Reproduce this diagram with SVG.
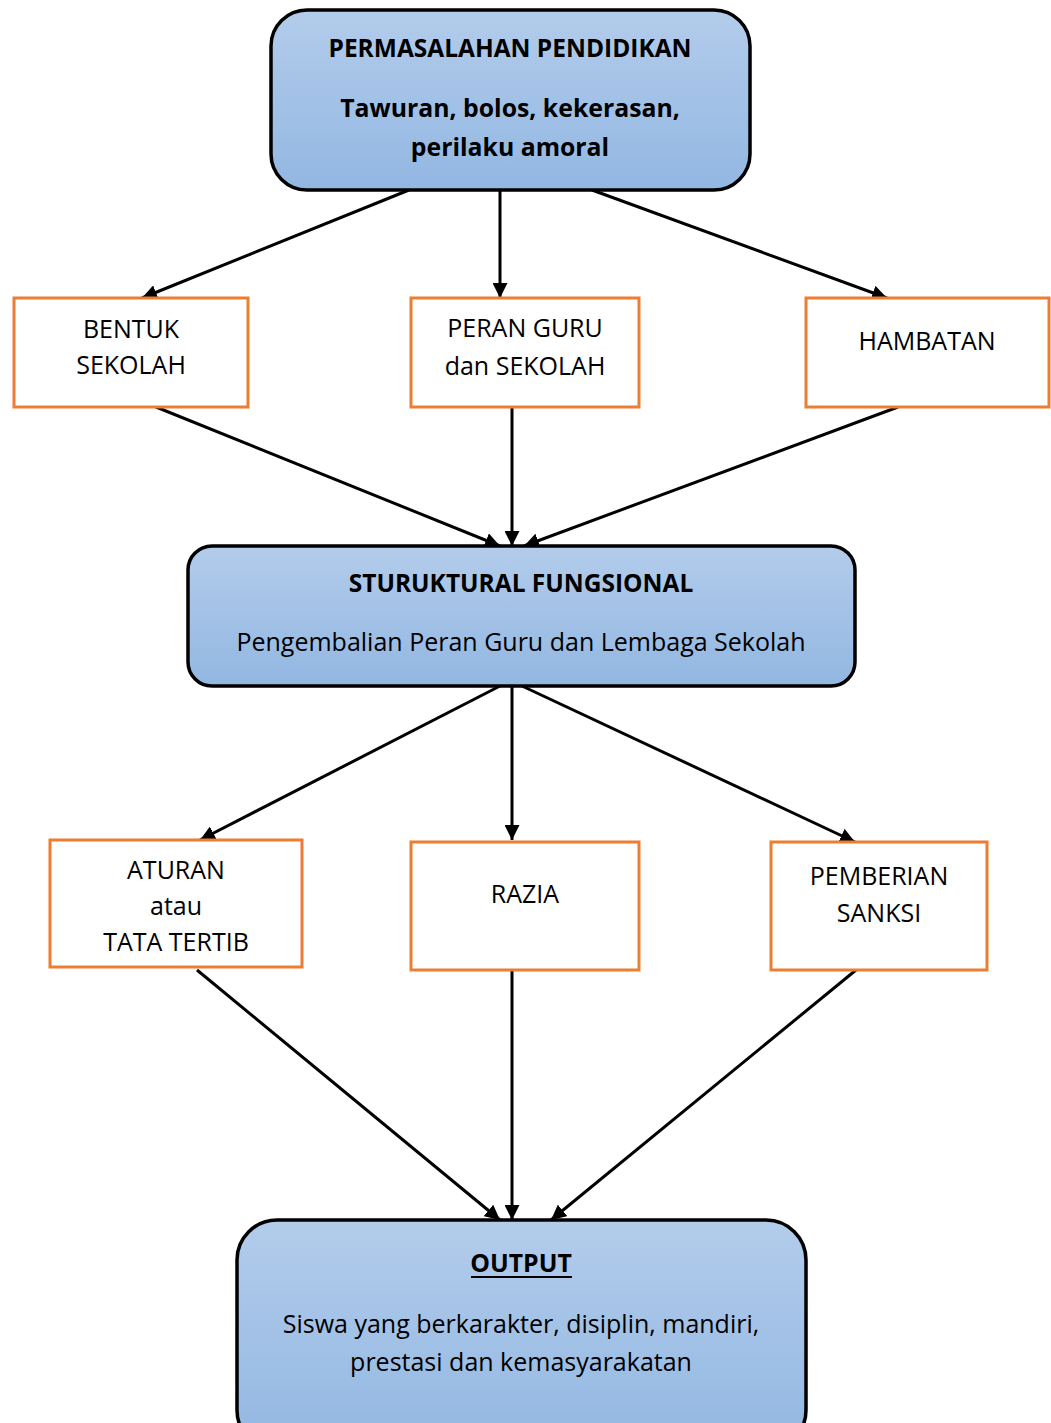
<svg xmlns="http://www.w3.org/2000/svg" width="1051" height="1423" viewBox="0 0 1051 1423">
<defs>
<linearGradient id="blue" x1="0" y1="0" x2="0" y2="1">
<stop offset="0" stop-color="#b3cceb"/>
<stop offset="1" stop-color="#92b7e2"/>
</linearGradient>
<marker id="arr" viewBox="0 0 10 10" refX="10" refY="5" markerWidth="5" markerHeight="5" orient="auto" markerUnits="strokeWidth">
<path d="M0,0 L10,5 L0,10 z" fill="#000"/>
</marker>
<style>
.big{fill:url(#blue);stroke:#000;stroke-width:3.5}
.box{fill:#fff;stroke:#ed7d31;stroke-width:3}
.t{font-family:"Open Sans",Lato,sans-serif;font-size:25px;fill:#000;text-anchor:middle}
.h{font-weight:bold;font-size:24.5px}
.b{font-weight:bold;font-size:24.8px}
.c line{stroke:#000;stroke-width:3;marker-end:url(#arr)}
</style>
</defs>
<rect width="1051" height="1423" fill="#fff"/>
<g class="c" id="connectors">
<line x1="409" y1="190" x2="142" y2="298"/>
<line x1="500" y1="190" x2="500" y2="298"/>
<line x1="592" y1="190" x2="887" y2="298"/>
<line x1="156" y1="407" x2="500" y2="546"/>
<line x1="512" y1="407" x2="512" y2="546"/>
<line x1="898" y1="407" x2="524" y2="546"/>
<line x1="500" y1="686" x2="200" y2="840"/>
<line x1="512" y1="686" x2="512" y2="840"/>
<line x1="522" y1="686" x2="855" y2="842"/>
<line x1="197" y1="970" x2="500" y2="1220"/>
<line x1="512" y1="970" x2="512" y2="1220"/>
<line x1="856" y1="970" x2="551" y2="1220"/>
</g>
<g id="permasalahan">
<rect class="big" x="271" y="10" width="479" height="180" rx="36"/>
<text class="t h" x="510" y="57">PERMASALAHAN PENDIDIKAN</text>
<text class="t b" x="510" y="117">Tawuran, bolos, kekerasan,</text>
<text class="t b" x="510" y="156">perilaku amoral</text>
</g>
<g id="bentuk">
<rect class="box" x="14" y="298" width="234" height="109"/>
<text class="t" x="131" y="338">BENTUK</text>
<text class="t" x="131" y="374">SEKOLAH</text>
</g>
<g id="peran">
<rect class="box" x="411" y="298" width="228" height="109"/>
<text class="t" x="525" y="337">PERAN GURU</text>
<text class="t" x="525" y="375">dan SEKOLAH</text>
</g>
<g id="hambatan">
<rect class="box" x="806" y="298" width="243" height="109"/>
<text class="t" x="927" y="350">HAMBATAN</text>
</g>
<g id="struktural">
<rect class="big" x="188" y="546" width="667" height="140" rx="24"/>
<text class="t h" x="521" y="592">STURUKTURAL FUNGSIONAL</text>
<text class="t" x="521" y="651">Pengembalian Peran Guru dan Lembaga Sekolah</text>
</g>
<g id="aturan">
<rect class="box" x="50" y="840" width="252" height="127"/>
<text class="t" x="176" y="879">ATURAN</text>
<text class="t" x="176" y="915">atau</text>
<text class="t" x="176" y="951">TATA TERTIB</text>
</g>
<g id="razia">
<rect class="box" x="411" y="842" width="228" height="128"/>
<text class="t" x="525" y="903">RAZIA</text>
</g>
<g id="sanksi">
<rect class="box" x="771" y="842" width="216" height="128"/>
<text class="t" x="879" y="885">PEMBERIAN</text>
<text class="t" x="879" y="922">SANKSI</text>
</g>
<g id="output">
<rect class="big" x="237" y="1220" width="569" height="230" rx="40"/>
<text class="t b" x="521" y="1272">OUTPUT</text>
<line x1="471" y1="1277" x2="572" y2="1277" stroke="#000" stroke-width="2"/>
<text class="t" x="521" y="1333">Siswa yang berkarakter, disiplin, mandiri,</text>
<text class="t" x="521" y="1371">prestasi dan kemasyarakatan</text>
</g>
</svg>
